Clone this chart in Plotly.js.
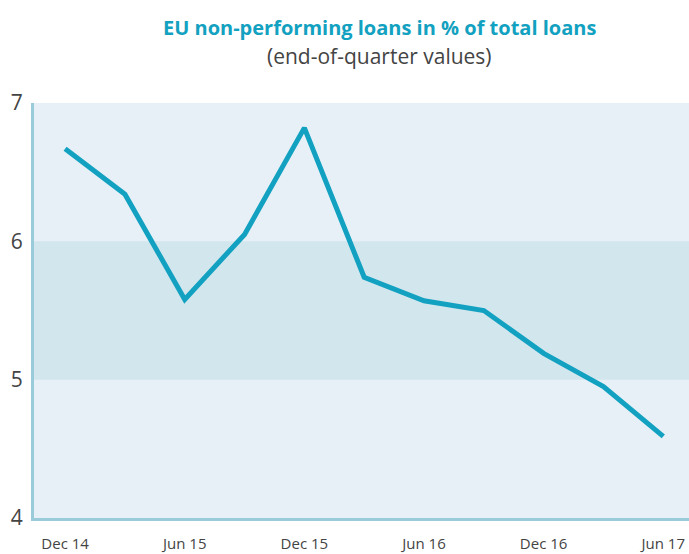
<!DOCTYPE html>
<html>
<head>
<meta charset="utf-8">
<script src="https://cdn.plot.ly/plotly-3.0.1.min.js"></script>
<style>html,body{margin:0;padding:0;background:#fff;}#chart{width:689px;height:554px;}</style>
</head>
<body>
<div id="chart"></div>
<script>
const quarters = ["Dec 14","Mar 15","Jun 15","Sep 15","Dec 15","Mar 16","Jun 16","Sep 16","Dec 16","Mar 17","Jun 17"];
const nplRatio = [6.67, 6.34, 5.58, 6.05, 6.82, 5.74, 5.57, 5.50, 5.19, 4.95, 4.59];
const tickLabels = ["Dec 14","Jun 15","Dec 15","Jun 16","Dec 16","Jun 17"];
const tickIdx = [0, 2, 4, 6, 8, 10];
const yTicks = [4, 5, 6, 7];

const xIdx = quarters.map((q, i) => i);

const trace = {
  x: xIdx,
  y: nplRatio,
  text: quarters,
  type: 'scatter',
  mode: 'lines',
  line: {color: '#12a1c0', width: 5, shape: 'linear'},
  hoverinfo: 'text+y'
};

const layout = {
  width: 689,
  height: 554,
  margin: {l: 34, r: 0, t: 103, b: 36},
  paper_bgcolor: '#ffffff',
  plot_bgcolor: '#e6f0f6',
  showlegend: false,
  font: {family: 'Open Sans, sans-serif', color: '#444444'},
  xaxis: {
    range: [-0.52, 10.43],
    tickmode: 'array',
    tickvals: tickIdx,
    ticktext: tickLabels,
    showgrid: false,
    zeroline: false,
    showline: true,
    linecolor: '#9acbda',
    linewidth: 3,
    ticks: '',
    ticklabelstandoff: 10,
    tickfont: {size: 15, color: '#444444'},
    fixedrange: true
  },
  yaxis: {
    range: [4, 7],
    tickmode: 'array',
    tickvals: yTicks,
    ticktext: yTicks.map(String),
    showgrid: false,
    zeroline: false,
    showline: true,
    linecolor: '#9acbda',
    linewidth: 3,
    ticks: '',
    ticklabelstandoff: 4,
    tickfont: {size: 21, color: '#444444'},
    fixedrange: true
  },
  shapes: [
    {type: 'rect', xref: 'paper', yref: 'y', x0: 0, x1: 1, y0: 5, y1: 6,
     fillcolor: '#d2e6ee', line: {width: 0}, layer: 'below'}
  ],
  annotations: [
    {text: '<b>EU non-performing loans in % of total loans</b>', xref: 'paper', yref: 'paper',
     x: 0.527, y: 1, yshift: 76, showarrow: false, xanchor: 'center', yanchor: 'middle',
     font: {size: 20, color: '#12a1c0', family: 'Open Sans, sans-serif'}},
    {text: '(end-of-quarter values)', xref: 'paper', yref: 'paper',
     x: 0.527, y: 1, yshift: 47, showarrow: false, xanchor: 'center', yanchor: 'middle',
     font: {size: 21, color: '#444444', family: 'Open Sans, sans-serif'}}
  ]
};

Plotly.newPlot('chart', [trace], layout, {displayModeBar: false, staticPlot: true});
</script>
</body>
</html>
